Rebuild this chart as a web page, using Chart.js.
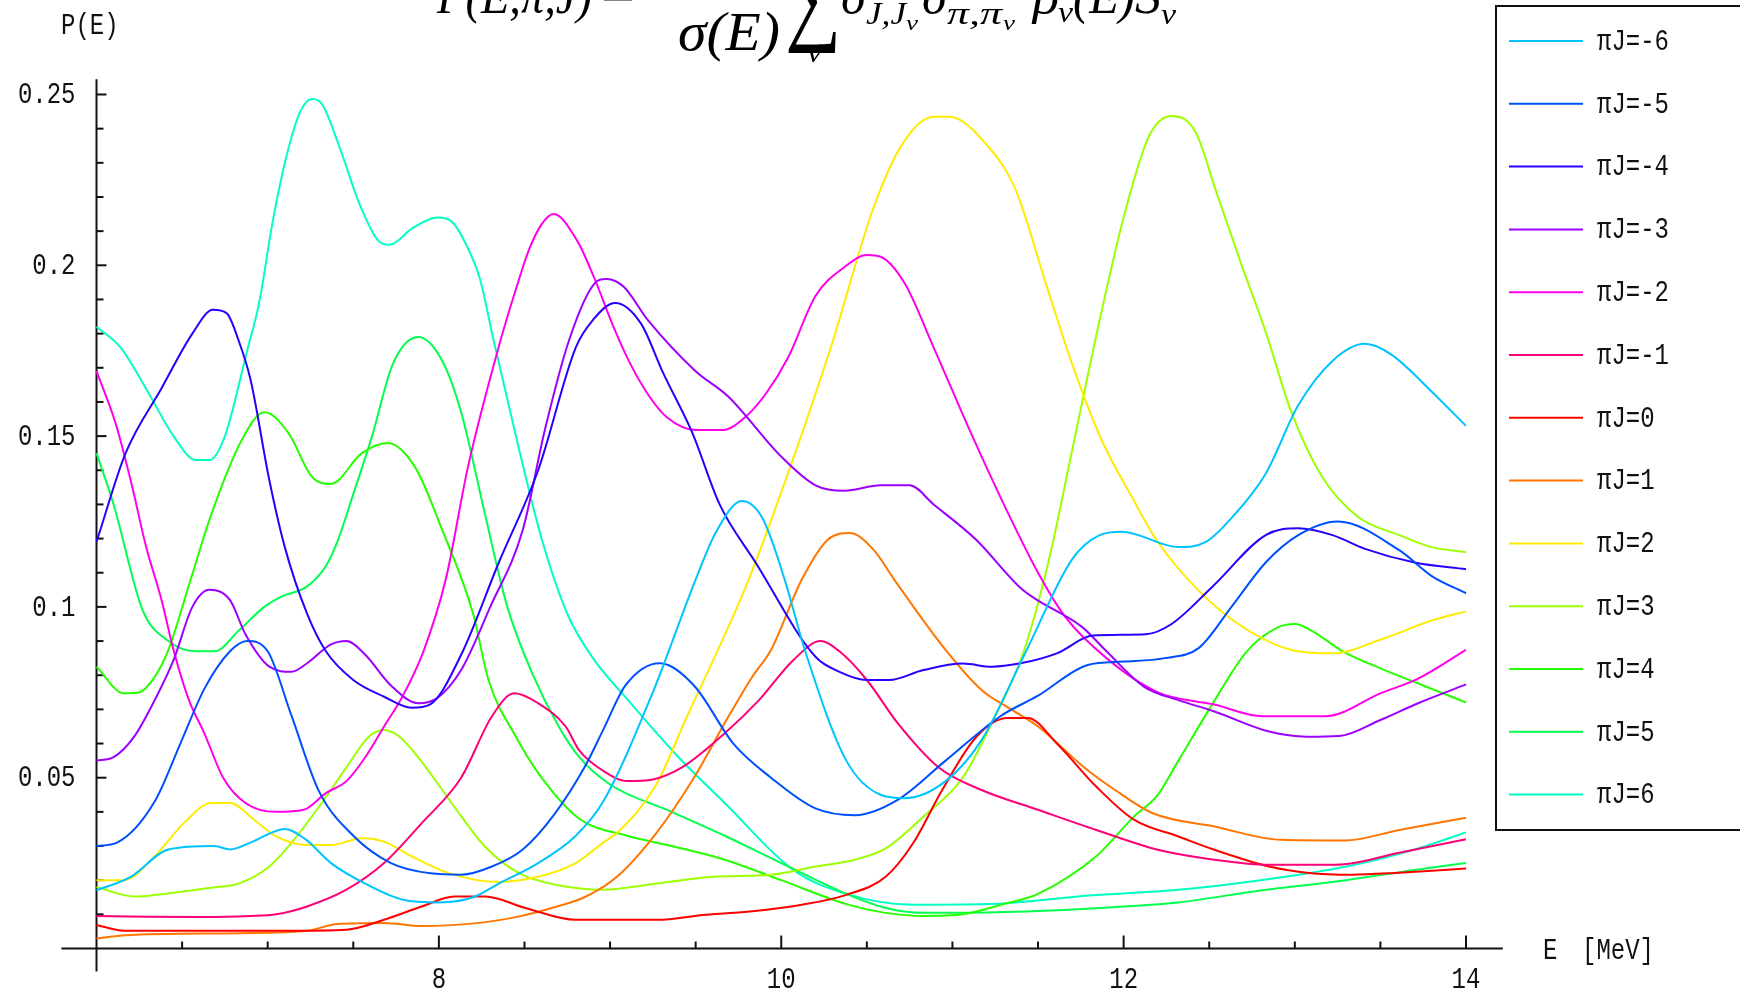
<!DOCTYPE html>
<html>
<head>
<meta charset="utf-8">
<script src="https://cdn.jsdelivr.net/npm/chart.js@4.4.1/dist/chart.umd.min.js"></script>
<style>
  html, body { margin: 0; padding: 0; background: #ffffff; }
  #wrap { width: 1740px; height: 994px; position: relative; }
</style>
</head>
<body>
<div id="wrap"><canvas id="chart" width="1740" height="994"></canvas></div>
<script>
// Axis ranges and tick values
const energyRange = [6, 14];
const probRange = [0, 0.25];
const xMajorTicks = [8, 10, 12, 14];
const yMajorTicks = [0.05, 0.1, 0.15, 0.2, 0.25];
const yTickLabels = ['0.05', '0.1', '0.15', '0.2', '0.25'];

// Parity-signed spin values, one curve each
const piJValues = [-6, -5, -4, -3, -2, -1, 0, 1, 2, 3, 4, 5, 6];

// P(E, pi, J) curves as [E in MeV, probability] pairs
const pJm6 = [[6.0,0.017],[6.2,0.021],[6.42,0.029],[6.69,0.030],[6.78,0.029],[6.9,0.031],[7.1,0.035],[7.22,0.032],[7.37,0.025],[7.57,0.019],[7.79,0.0143],[8.0,0.0135],[8.2,0.015],[8.35,0.019],[8.58,0.025],[8.8,0.033],[8.96,0.043],[9.25,0.075],[9.5,0.108],[9.62,0.122],[9.77,0.131],[9.89,0.126],[10.02,0.108],[10.14,0.087],[10.38,0.055],[10.58,0.045],[10.72,0.044],[10.96,0.049],[11.17,0.061],[11.43,0.087],[11.70,0.114],[11.86,0.121],[11.99,0.122],[12.32,0.1175],[12.48,0.119],[12.63,0.126],[12.83,0.139],[13.02,0.159],[13.22,0.172],[13.41,0.177],[13.56,0.174],[13.80,0.163],[14.0,0.153]];
const pJm5 = [[6.0,0.030],[6.12,0.031],[6.34,0.043],[6.49,0.060],[6.63,0.076],[6.78,0.087],[6.88,0.090],[7.0,0.087],[7.14,0.068],[7.30,0.046],[7.5,0.033],[7.72,0.025],[7.95,0.022],[8.13,0.0216],[8.31,0.024],[8.49,0.029],[8.67,0.039],[8.85,0.053],[8.96,0.064],[9.09,0.077],[9.29,0.0835],[9.49,0.077],[9.72,0.060],[9.94,0.050],[10.2,0.041],[10.43,0.039],[10.68,0.0435],[10.96,0.055],[11.28,0.068],[11.5,0.074],[11.79,0.083],[12.0,0.084],[12.24,0.085],[12.44,0.088],[12.63,0.100],[12.83,0.113],[13.02,0.121],[13.25,0.125],[13.61,0.1166],[13.8,0.109],[14.0,0.104]];
const pJm4 = [[6.0,0.119],[6.17,0.145],[6.38,0.164],[6.56,0.180],[6.68,0.187],[6.76,0.186],[6.83,0.178],[6.9,0.1665],[7.01,0.137],[7.1,0.1175],[7.23,0.098],[7.34,0.087],[7.5,0.0786],[7.68,0.0737],[7.84,0.0705],[7.95,0.0715],[8.13,0.086],[8.35,0.113],[8.58,0.140],[8.80,0.176],[8.90,0.184],[9.03,0.189],[9.18,0.183],[9.31,0.1685],[9.48,0.151],[9.64,0.130],[9.85,0.113],[10.2,0.0854],[10.34,0.081],[10.5,0.0786],[10.63,0.0786],[10.83,0.0815],[11.06,0.0834],[11.23,0.0825],[11.39,0.0834],[11.61,0.0864],[11.82,0.0916],[12.13,0.092],[12.28,0.095],[12.52,0.106],[12.83,0.121],[13.02,0.123],[13.22,0.121],[13.41,0.117],[13.70,0.113],[14.0,0.111]];
const pJm3 = [[6.0,0.055],[6.1,0.056],[6.22,0.062],[6.34,0.0727],[6.45,0.0844],[6.56,0.100],[6.66,0.105],[6.78,0.102],[6.87,0.092],[7.01,0.0825],[7.14,0.081],[7.23,0.0835],[7.37,0.089],[7.46,0.090],[7.57,0.086],[7.72,0.077],[7.88,0.0718],[7.99,0.0733],[8.13,0.0815],[8.3,0.100],[8.49,0.1225],[8.62,0.152],[8.76,0.178],[8.91,0.1947],[8.98,0.196],[9.08,0.1937],[9.22,0.184],[9.5,0.169],[9.69,0.1616],[10.0,0.144],[10.2,0.1356],[10.37,0.134],[10.58,0.1356],[10.75,0.1356],[10.89,0.130],[11.14,0.1196],[11.41,0.105],[11.76,0.094],[11.9,0.087],[12.12,0.0766],[12.32,0.0727],[12.53,0.0694],[12.85,0.0635],[13.07,0.062],[13.26,0.0622],[13.5,0.0669],[13.72,0.0718],[14.0,0.0773]];
const pJm2 = [[6.0,0.169],[6.11,0.154],[6.2,0.137],[6.29,0.1176],[6.38,0.102],[6.45,0.0874],[6.54,0.0727],[6.63,0.063],[6.74,0.050],[6.87,0.0426],[7.05,0.040],[7.21,0.0406],[7.34,0.0455],[7.46,0.049],[7.57,0.056],[7.68,0.065],[7.79,0.074],[7.91,0.087],[8.04,0.108],[8.17,0.141],[8.36,0.178],[8.45,0.193],[8.53,0.205],[8.6,0.212],[8.67,0.215],[8.81,0.207],[8.91,0.196],[9.02,0.182],[9.12,0.171],[9.23,0.1616],[9.33,0.1556],[9.5,0.1518],[9.66,0.1518],[9.79,0.1556],[9.91,0.1624],[10.04,0.173],[10.2,0.191],[10.37,0.1995],[10.5,0.203],[10.58,0.2025],[10.72,0.1948],[10.89,0.176],[11.1,0.1518],[11.31,0.129],[11.5,0.110],[11.66,0.097],[11.9,0.085],[12.2,0.075],[12.53,0.0714],[12.81,0.068],[13.18,0.068],[13.5,0.0747],[13.72,0.079],[14.0,0.0874]];
const pJm1 = [[6.0,0.0095],[6.3,0.0093],[6.6,0.0092],[6.9,0.0095],[7.05,0.010],[7.23,0.0123],[7.46,0.0172],[7.68,0.025],[7.9,0.0367],[8.13,0.050],[8.31,0.068],[8.44,0.0747],[8.58,0.0718],[8.74,0.065],[8.82,0.058],[8.96,0.052],[9.1,0.049],[9.25,0.0495],[9.42,0.053],[9.67,0.063],[9.87,0.0727],[10.07,0.0844],[10.23,0.090],[10.34,0.087],[10.5,0.0786],[10.68,0.066],[10.92,0.053],[11.17,0.0464],[11.5,0.0406],[11.84,0.0347],[12.2,0.0289],[12.53,0.026],[12.85,0.0245],[13.24,0.0245],[13.61,0.028],[14.0,0.032]];
const pJ0 = [[6.0,0.0069],[6.16,0.0052],[6.5,0.0052],[6.8,0.0052],[7.1,0.0052],[7.46,0.0055],[7.68,0.0084],[7.9,0.0123],[8.09,0.0152],[8.27,0.0152],[8.51,0.0118],[8.8,0.0084],[9.27,0.0084],[9.56,0.0099],[9.83,0.0109],[10.12,0.0128],[10.38,0.0157],[10.61,0.021],[10.77,0.0308],[10.94,0.0464],[11.14,0.062],[11.32,0.0675],[11.44,0.0675],[11.61,0.060],[11.84,0.0474],[12.06,0.0377],[12.32,0.0328],[12.53,0.0289],[12.85,0.024],[13.07,0.0222],[13.33,0.0216],[13.61,0.0222],[14.0,0.0234]];
const pJ1 = [[6.0,0.0029],[6.17,0.0039],[6.83,0.0045],[7.23,0.0052],[7.41,0.0072],[7.68,0.0075],[7.9,0.0066],[8.24,0.0075],[8.47,0.0094],[8.69,0.0123],[8.85,0.0150],[9.04,0.021],[9.27,0.0338],[9.49,0.050],[9.67,0.066],[9.83,0.0795],[9.94,0.0874],[10.12,0.108],[10.27,0.1196],[10.4,0.1216],[10.54,0.1167],[10.66,0.108],[10.96,0.0874],[11.17,0.0757],[11.35,0.0698],[11.5,0.065],[11.77,0.053],[11.95,0.0464],[12.17,0.0396],[12.53,0.0357],[12.92,0.0318],[13.29,0.0316],[13.61,0.0347],[14.0,0.0383]];
const pJ2 = [[6.0,0.020],[6.16,0.020],[6.34,0.027],[6.51,0.0367],[6.67,0.0426],[6.78,0.0426],[6.92,0.0377],[7.05,0.0328],[7.23,0.0303],[7.37,0.0303],[7.55,0.0323],[7.68,0.0313],[7.84,0.027],[8.06,0.022],[8.35,0.0195],[8.58,0.021],[8.8,0.025],[8.96,0.031],[9.04,0.0338],[9.27,0.048],[9.45,0.068],[9.63,0.0874],[9.81,0.108],[10.06,0.142],[10.29,0.176],[10.54,0.217],[10.71,0.2357],[10.89,0.2435],[10.98,0.2435],[11.21,0.2347],[11.37,0.222],[11.54,0.1956],[11.7,0.171],[11.87,0.149],[12.05,0.132],[12.2,0.119],[12.44,0.1047],[12.67,0.095],[12.98,0.0874],[13.22,0.0864],[13.51,0.0906],[13.80,0.096],[14.0,0.0987]];
const pJ3 = [[6.0,0.018],[6.22,0.0152],[6.45,0.0163],[6.67,0.0178],[6.83,0.019],[7.01,0.024],[7.14,0.031],[7.30,0.0415],[7.46,0.053],[7.59,0.062],[7.68,0.064],[7.77,0.062],[7.91,0.054],[8.09,0.0415],[8.27,0.0298],[8.47,0.022],[8.69,0.0186],[8.96,0.0172],[9.27,0.019],[9.6,0.021],[9.94,0.0216],[10.2,0.024],[10.43,0.026],[10.61,0.0293],[10.83,0.0386],[11.06,0.050],[11.23,0.066],[11.41,0.086],[11.56,0.113],[11.70,0.146],[11.86,0.184],[12.01,0.216],[12.15,0.238],[12.28,0.2437],[12.42,0.239],[12.54,0.2217],[12.69,0.200],[12.83,0.1805],[12.98,0.157],[13.16,0.138],[13.37,0.1263],[13.61,0.121],[13.8,0.1175],[14.0,0.116]];
const pJ4 = [[6.0,0.0825],[6.16,0.0747],[6.25,0.075],[6.34,0.0795],[6.42,0.0874],[6.55,0.108],[6.67,0.127],[6.85,0.149],[6.98,0.157],[7.12,0.151],[7.26,0.138],[7.37,0.136],[7.55,0.145],[7.70,0.148],[7.86,0.141],[8.02,0.1225],[8.2,0.098],[8.29,0.0786],[8.45,0.062],[8.6,0.050],[8.82,0.038],[9.1,0.033],[9.36,0.030],[9.67,0.026],[10.0,0.020],[10.38,0.013],[10.6,0.0105],[10.85,0.0095],[11.06,0.010],[11.3,0.013],[11.5,0.016],[11.84,0.027],[12.06,0.0386],[12.2,0.045],[12.32,0.055],[12.5,0.070],[12.72,0.087],[12.9,0.094],[13.0,0.095],[13.1,0.093],[13.28,0.087],[13.5,0.082],[13.75,0.077],[14.0,0.072]];
const pJ5 = [[6.0,0.145],[6.1,0.130],[6.27,0.099],[6.42,0.090],[6.58,0.087],[6.69,0.087],[6.83,0.093],[6.98,0.100],[7.08,0.103],[7.23,0.106],[7.34,0.112],[7.41,0.1195],[7.5,0.133],[7.61,0.150],[7.73,0.171],[7.88,0.179],[8.02,0.172],[8.13,0.157],[8.27,0.127],[8.4,0.100],[8.55,0.080],[8.7,0.065],[8.82,0.056],[9.0,0.048],[9.36,0.040],[9.67,0.033],[10.0,0.025],[10.38,0.016],[10.6,0.012],[10.8,0.0105],[11.06,0.0105],[11.5,0.011],[12.0,0.0123],[12.32,0.0135],[12.8,0.017],[13.3,0.020],[13.7,0.023],[14.0,0.025]];
const pJ6 = [[6.0,0.182],[6.14,0.176],[6.3,0.163],[6.45,0.150],[6.58,0.143],[6.66,0.143],[6.75,0.150],[6.88,0.175],[6.95,0.189],[7.03,0.213],[7.11,0.232],[7.19,0.245],[7.26,0.2487],[7.32,0.247],[7.42,0.2345],[7.54,0.2175],[7.65,0.207],[7.71,0.206],[7.85,0.211],[7.99,0.214],[8.07,0.213],[8.16,0.206],[8.24,0.196],[8.32,0.178],[8.45,0.150],[8.6,0.120],[8.75,0.098],[8.9,0.085],[9.1,0.073],[9.4,0.056],[9.67,0.0426],[10.07,0.023],[10.38,0.016],[10.77,0.0128],[11.2,0.013],[11.8,0.0155],[12.32,0.0172],[12.8,0.020],[13.3,0.024],[13.7,0.029],[14.0,0.034]];

const curves = [pJm6, pJm5, pJm4, pJm3, pJm2, pJm1, pJ0, pJ1, pJ2, pJ3, pJ4, pJ5, pJ6];

// Hue wheel split into 13 steps, pi*J = 0 at red
function hueColor(k) {
  const h = (((k / 13) % 1) + 1) % 1 * 360;
  return 'hsl(' + h.toFixed(1) + ', 100%, 50%)';
}

const datasets = piJValues.map((k, i) => ({
  label: 'πJ=' + k,
  data: curves[i].map(p => ({ x: p[0], y: p[1] })),
  borderColor: hueColor(k),
  backgroundColor: hueColor(k),
  borderWidth: 2,
  pointRadius: 0,
  fill: false,
  cubicInterpolationMode: 'monotone',
  clip: 10
}));

const MONO = '"Liberation Mono", "DejaVu Sans Mono", monospace';
const SERIF = '"Liberation Serif", "DejaVu Serif", serif';

function seg(ctx, x1, y1, x2, y2) {
  ctx.beginPath();
  ctx.moveTo(x1, y1);
  ctx.lineTo(x2, y2);
  ctx.stroke();
}

// Draws text squeezed or stretched horizontally to a given width
function fitText(ctx, text, font, x, y, width) {
  ctx.save();
  ctx.font = font;
  const w = ctx.measureText(text).width;
  ctx.translate(x, y);
  ctx.scale(width / w, 1);
  ctx.fillText(text, 0, 0);
  ctx.restore();
}

// Typewriter-style label, slightly taller than the plain font
function monoText(ctx, text, x, y, align) {
  ctx.save();
  ctx.font = '24px ' + MONO;
  ctx.textAlign = align;
  ctx.textBaseline = 'middle';
  ctx.translate(x, y);
  ctx.scale(1, 1.22);
  ctx.fillText(text, 0, 0);
  ctx.restore();
}

// Mathematica-style crossing axes with inward ticks
const axesPlugin = {
  id: 'crossAxes',
  beforeDatasetsDraw(chart) {
    const ctx = chart.ctx;
    const xs = chart.scales.x, ys = chart.scales.y;
    const x0 = xs.getPixelForValue(energyRange[0]);
    const y0 = ys.getPixelForValue(probRange[0]);
    ctx.save();
    ctx.strokeStyle = '#111';
    ctx.lineWidth = 2;
    ctx.lineCap = 'butt';
    seg(ctx, x0, ys.getPixelForValue(0.2545), x0, y0 + 23);
    seg(ctx, xs.getPixelForValue(5.795), y0, xs.getPixelForValue(14.215), y0);
    for (let i = 1; i <= 25; i++) {
      const py = ys.getPixelForValue(i / 100);
      const len = (i % 5 === 0) ? 10 : 7;
      seg(ctx, x0, py, x0 + len, py);
    }
    for (let i = 13; i <= 28; i++) {
      const e = i / 2;
      const px = xs.getPixelForValue(e);
      const len = xMajorTicks.includes(e) ? 13 : 7;
      seg(ctx, px, y0, px, y0 - len);
    }
    ctx.restore();
  },
  afterDraw(chart) {
    const ctx = chart.ctx;
    const xs = chart.scales.x, ys = chart.scales.y;
    const x0 = xs.getPixelForValue(energyRange[0]);
    const y0 = ys.getPixelForValue(probRange[0]);
    ctx.save();
    ctx.fillStyle = '#111';
    // y tick labels
    yMajorTicks.forEach((v, i) => {
      monoText(ctx, yTickLabels[i], x0 - 21, ys.getPixelForValue(v) + 1, 'right');
    });
    // x tick labels
    xMajorTicks.forEach(v => {
      monoText(ctx, String(v), xs.getPixelForValue(v), y0 + 32, 'center');
    });
    // axis names
    monoText(ctx, 'P(E)', 61, 26, 'left');
    monoText(ctx, 'E', 1543, y0 + 3, 'left');
    monoText(ctx, '[MeV]', 1582, y0 + 3, 'left');

    // legend box
    ctx.strokeStyle = '#111';
    ctx.lineWidth = 2;
    ctx.strokeRect(1496, 6, 300, 824);
    chart.data.datasets.forEach((ds, i) => {
      const y = 41 + i * 62.8;
      ctx.strokeStyle = ds.borderColor;
      ctx.lineWidth = 2;
      seg(ctx, 1509, y, 1583, y);
      ctx.fillStyle = '#111';
      monoText(ctx, ds.label, 1597, y + 1, 'left');
    });

    // formula header
    ctx.fillStyle = '#000';
    ctx.textBaseline = 'alphabetic';
    ctx.textAlign = 'left';
    const it = (s) => 'italic ' + s + 'px ' + SERIF;
    const up = (s) => s + 'px ' + SERIF;
    fitText(ctx, 'P(E,π,J)', it(50), 437, 13, 155);
    fitText(ctx, '=', up(50), 601, 11, 34);
    fitText(ctx, 'σ(E)', it(54), 678, 50, 102);
    fitText(ctx, '∑', up(104), 785, 31, 56);
    fitText(ctx, 'ν', it(30), 807, 62, 15);
    fitText(ctx, 'δ', it(52), 841, 13, 24);
    fitText(ctx, 'J,J', it(32), 866, 24, 40);
    fitText(ctx, 'ν', it(22), 906, 30, 12);
    fitText(ctx, 'δ', it(52), 922, 13, 24);
    fitText(ctx, 'π,π', it(32), 947, 24, 55);
    fitText(ctx, 'ν', it(22), 1003, 30, 12);
    fitText(ctx, 'ρ', it(52), 1033, 13, 26);
    fitText(ctx, 'ν', it(30), 1058, 22, 15);
    fitText(ctx, '(E)', it(52), 1073, 13, 62);
    fitText(ctx, 'S', it(52), 1135, 13, 26);
    fitText(ctx, 'ν', it(30), 1161, 24, 15);
    ctx.restore();
  }
};

new Chart(document.getElementById('chart'), {
  type: 'line',
  data: { datasets },
  options: {
    responsive: false,
    animation: false,
    devicePixelRatio: 1,
    layout: { padding: { left: 96.5, right: 274, top: 94.5, bottom: 45.5 } },
    scales: {
      x: { type: 'linear', min: energyRange[0], max: energyRange[1], display: false },
      y: { type: 'linear', min: probRange[0], max: probRange[1], display: false }
    },
    plugins: { legend: { display: false }, tooltip: { enabled: false } }
  },
  plugins: [axesPlugin]
});
</script>
</body>
</html>
